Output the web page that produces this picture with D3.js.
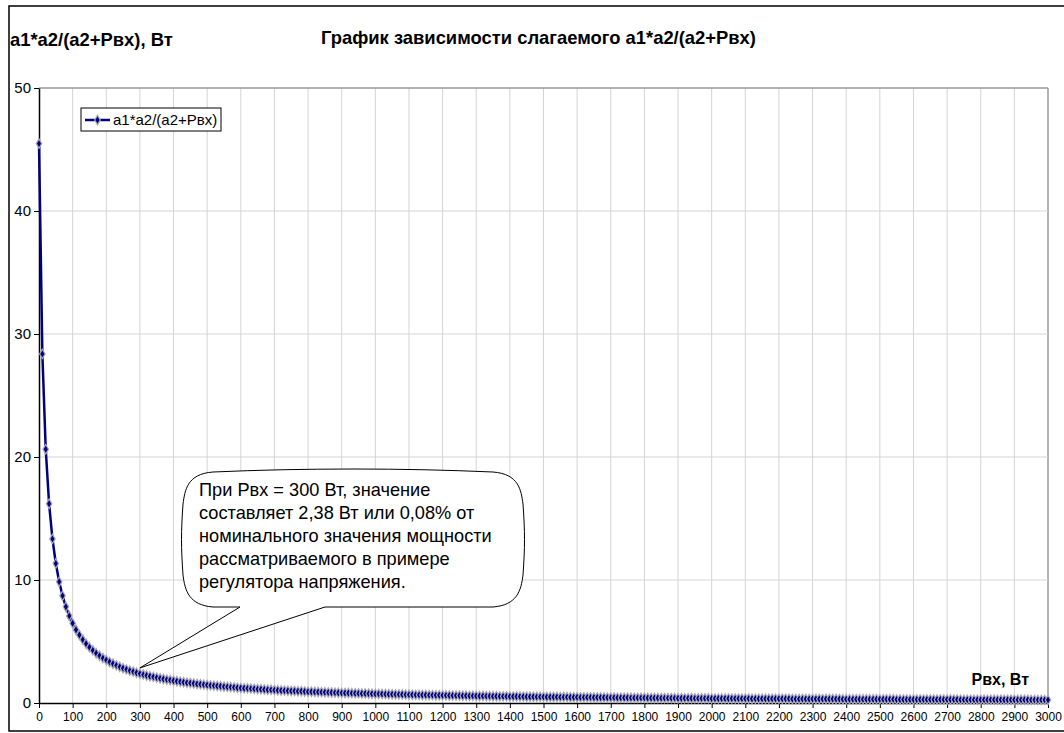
<!DOCTYPE html>
<html>
<head>
<meta charset="utf-8">
<script src="https://cdn.jsdelivr.net/npm/d3@7"></script>
<style>
  body { margin: 0; background: #fff; }
  text { font-family: "Liberation Sans", Arial, sans-serif; }
</style>
</head>
<body>
<svg id="chart" width="1064" height="733"></svg>
<script>
// Рвх, Вт — шаг 10 от 0 до 3000
const pvx = d3.range(0, 3001, 10);
// a1*a2/(a2+Рвх), Вт — значения
const values = [
  45.48, 28.38, 20.63, 16.20, 13.34, 11.34, 9.86, 8.72, 7.82, 7.08,
  6.48, 5.96, 5.53, 5.15, 4.82, 4.53, 4.28, 4.05, 3.84, 3.65,
  3.49, 3.33, 3.19, 3.06, 2.94, 2.83, 2.73, 2.63, 2.55, 2.46,
  2.38, 2.31, 2.24, 2.18, 2.12, 2.06, 2.00, 1.95, 1.90, 1.86,
  1.81, 1.77, 1.73, 1.69, 1.65, 1.62, 1.58, 1.55, 1.52, 1.49,
  1.46, 1.43, 1.41, 1.38, 1.36, 1.33, 1.31, 1.29, 1.27, 1.24,
  1.22, 1.20, 1.19, 1.17, 1.15, 1.13, 1.12, 1.10, 1.08, 1.07,
  1.05, 1.04, 1.02, 1.01, 1.00, 0.98, 0.97, 0.96, 0.95, 0.94,
  0.92, 0.91, 0.90, 0.89, 0.88, 0.87, 0.86, 0.85, 0.84, 0.83,
  0.82, 0.81, 0.81, 0.80, 0.79, 0.78, 0.77, 0.77, 0.76, 0.75,
  0.74, 0.74, 0.73, 0.72, 0.71, 0.71, 0.70, 0.70, 0.69, 0.68,
  0.68, 0.67, 0.66, 0.66, 0.65, 0.65, 0.64, 0.64, 0.63, 0.63,
  0.62, 0.62, 0.61, 0.61, 0.60, 0.60, 0.59, 0.59, 0.58, 0.58,
  0.57, 0.57, 0.57, 0.56, 0.56, 0.55, 0.55, 0.54, 0.54, 0.54,
  0.53, 0.53, 0.53, 0.52, 0.52, 0.51, 0.51, 0.51, 0.50, 0.50,
  0.50, 0.49, 0.49, 0.49, 0.49, 0.48, 0.48, 0.48, 0.47, 0.47,
  0.47, 0.46, 0.46, 0.46, 0.46, 0.45, 0.45, 0.45, 0.45, 0.44,
  0.44, 0.44, 0.43, 0.43, 0.43, 0.43, 0.42, 0.42, 0.42, 0.42,
  0.42, 0.41, 0.41, 0.41, 0.41, 0.40, 0.40, 0.40, 0.40, 0.40,
  0.39, 0.39, 0.39, 0.39, 0.39, 0.38, 0.38, 0.38, 0.38, 0.38,
  0.37, 0.37, 0.37, 0.37, 0.37, 0.37, 0.36, 0.36, 0.36, 0.36,
  0.36, 0.36, 0.35, 0.35, 0.35, 0.35, 0.35, 0.35, 0.34, 0.34,
  0.34, 0.34, 0.34, 0.34, 0.33, 0.33, 0.33, 0.33, 0.33, 0.33,
  0.33, 0.32, 0.32, 0.32, 0.32, 0.32, 0.32, 0.32, 0.32, 0.31,
  0.31, 0.31, 0.31, 0.31, 0.31, 0.31, 0.31, 0.30, 0.30, 0.30,
  0.30, 0.30, 0.30, 0.30, 0.30, 0.29, 0.29, 0.29, 0.29, 0.29,
  0.29, 0.29, 0.29, 0.29, 0.28, 0.28, 0.28, 0.28, 0.28, 0.28,
  0.28, 0.28, 0.28, 0.28, 0.27, 0.27, 0.27, 0.27, 0.27, 0.27,
  0.27, 0.27, 0.27, 0.27, 0.26, 0.26, 0.26, 0.26, 0.26, 0.26,
  0.26, 0.26, 0.26, 0.26, 0.26, 0.25, 0.25, 0.25, 0.25, 0.25,
  0.25
];
const xTicks = d3.range(0, 3001, 100);
const yTicks = [0, 10, 20, 30, 40, 50];

const chartTitle = "График зависимости слагаемого a1*a2/(a2+Рвх)";
const yTitle = "a1*a2/(a2+Рвх), Вт";
const xTitle = "Рвх, Вт";
const seriesName = "a1*a2/(a2+Рвх)";
const noteLines = [
  "При Рвх = 300 Вт, значение",
  "составляет 2,38 Вт или 0,08% от",
  "номинального значения мощности",
  "рассматриваемого в примере",
  "регулятора напряжения."
];
// точка, на которую указывает выноска
const notePoint = { x: 300, y: 2.85 };

const svg = d3.select("#chart");
const plot = { left: 39, right: 1048, top: 88, bottom: 703 };

const x = d3.scaleLinear().domain([0, 3000]).range([plot.left, plot.right]);
const y = d3.scaleLinear().domain([0, 50]).range([plot.bottom, plot.top]);

// внешняя рамка
svg.append("rect")
  .attr("x", 9).attr("y", 6)
  .attr("width", 1070).attr("height", 725)
  .attr("fill", "#fff").attr("stroke", "#000").attr("stroke-width", 1.5);

// сетка
svg.append("g")
  .selectAll("line")
  .data(xTicks.slice(1))
  .join("line")
  .attr("x1", d => x(d)).attr("x2", d => x(d))
  .attr("y1", plot.top).attr("y2", plot.bottom)
  .attr("stroke", d => d === 3000 ? "#9a9a9a" : "#d4d4d4")
  .attr("stroke-width", d => d === 3000 ? 1.5 : 1);
svg.append("g")
  .selectAll("line")
  .data(yTicks.slice(1))
  .join("line")
  .attr("x1", plot.left).attr("x2", plot.right)
  .attr("y1", d => y(d)).attr("y2", d => y(d))
  .attr("stroke", d => d === 50 ? "#9a9a9a" : "#d4d4d4")
  .attr("stroke-width", d => d === 50 ? 1.5 : 1);

// оси
const xAxis = d3.axisBottom(x).tickValues(xTicks).tickFormat(d3.format("d"))
  .tickSize(5).tickSizeOuter(0).tickPadding(4);
const gx = svg.append("g")
  .attr("transform", `translate(0,${plot.bottom})`)
  .call(xAxis);
gx.select(".domain").attr("stroke", "#000").attr("stroke-width", 1.5);
gx.selectAll(".tick line").attr("stroke", "#000");
gx.selectAll(".tick text")
  .attr("font-family", "Liberation Sans, Arial, sans-serif")
  .attr("font-size", 12).attr("fill", "#000");

const yAxis = d3.axisLeft(y).tickValues(yTicks).tickSize(5).tickSizeOuter(0).tickPadding(3);
const gy = svg.append("g")
  .attr("transform", `translate(${plot.left},0)`)
  .call(yAxis);
gy.select(".domain").attr("stroke", "#000").attr("stroke-width", 1.5);
gy.selectAll(".tick line").attr("stroke", "#000");
gy.selectAll(".tick text")
  .attr("font-family", "Liberation Sans, Arial, sans-serif")
  .attr("font-size", 15).attr("fill", "#000");

// линия и маркеры
const pts = pvx.map((p, i) => [p, values[i]]);
const line = d3.line().x(d => x(d[0])).y(d => y(d[1]));
svg.append("path")
  .datum(pts)
  .attr("d", line)
  .attr("fill", "none")
  .attr("stroke", "#000080")
  .attr("stroke-width", 2.5);

const diamond = d3.symbol(d3.symbolDiamond, 26);
svg.append("g")
  .selectAll("path")
  .data(pts)
  .join("path")
  .attr("transform", d => `translate(${x(d[0])},${y(d[1])})`)
  .attr("d", diamond)
  .attr("fill", "#000080")
  .attr("stroke", "#a8a8b4")
  .attr("stroke-width", 1.2);

// заголовки
svg.append("text")
  .attr("x", 321).attr("y", 44)
  .attr("font-size", 18.4).attr("font-weight", "bold")
  .text(chartTitle);
svg.append("text")
  .attr("x", 10).attr("y", 46)
  .attr("font-size", 18.4).attr("font-weight", "bold")
  .text(yTitle);
svg.append("text")
  .attr("x", 1029).attr("y", 685)
  .attr("text-anchor", "end")
  .attr("font-size", 16).attr("font-weight", "bold")
  .text(xTitle);

// легенда
const legend = svg.append("g");
legend.append("rect")
  .attr("x", 81).attr("y", 108).attr("width", 140).attr("height", 23)
  .attr("fill", "#fff").attr("stroke", "#000").attr("stroke-width", 1);
legend.append("line")
  .attr("x1", 85).attr("x2", 110).attr("y1", 120).attr("y2", 120)
  .attr("stroke", "#000080").attr("stroke-width", 2.5);
legend.append("path")
  .attr("transform", "translate(97.5,120)")
  .attr("d", diamond)
  .attr("fill", "#000080").attr("stroke", "#a8a8b4").attr("stroke-width", 1.2);
legend.append("text")
  .attr("x", 113).attr("y", 125)
  .attr("font-size", 15)
  .text(seriesName);

// выноска
const bx0 = 183, by0 = 472, bx1 = 523, by1 = 607;
const tx = x(notePoint.x), ty = y(notePoint.y);
const callout = d3.path();
callout.moveTo(bx0 + 30, by0);
callout.bezierCurveTo(bx0 + 120, by0 - 4, bx1 - 120, by0 - 4, bx1 - 30, by0);
callout.bezierCurveTo(bx1 - 4, by0 + 2, bx1 - 2, by0 + 18, bx1, by0 + 32);
callout.bezierCurveTo(bx1 + 2, by0 + 60, bx1 + 2, by1 - 60, bx1, by1 - 32);
callout.bezierCurveTo(bx1 - 2, by1 - 16, bx1 - 6, by1 - 2, bx1 - 30, by1);
callout.lineTo(325, by1);
callout.lineTo(tx, ty);
callout.lineTo(240, by1);
callout.lineTo(bx0 + 30, by1);
callout.bezierCurveTo(bx0 + 6, by1 - 2, bx0 + 2, by1 - 16, bx0, by1 - 32);
callout.bezierCurveTo(bx0 - 2, by1 - 60, bx0 - 2, by0 + 60, bx0, by0 + 32);
callout.bezierCurveTo(bx0 + 2, by0 + 18, bx0 + 4, by0 + 2, bx0 + 30, by0);
callout.closePath();
svg.append("path")
  .attr("d", callout.toString())
  .attr("fill", "#fff")
  .attr("stroke", "#000")
  .attr("stroke-width", 1);

svg.append("g")
  .selectAll("text")
  .data(noteLines)
  .join("text")
  .attr("x", 199)
  .attr("y", (d, i) => 496 + i * 23)
  .attr("font-size", 18.2)
  .text(d => d);
</script>
</body>
</html>
